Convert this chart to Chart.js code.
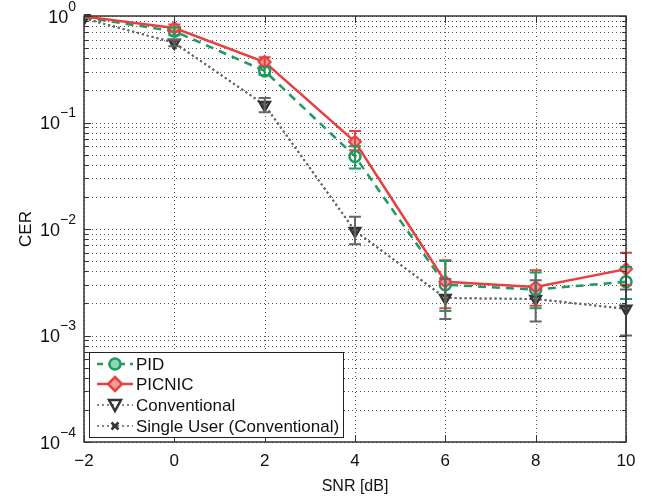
<!DOCTYPE html>
<html>
<head>
<meta charset="utf-8">
<script src="https://cdn.jsdelivr.net/npm/chart.js@4.4.1/dist/chart.umd.min.js"></script>
<style>
  html, body { margin: 0; padding: 0; background: #fff; }
  #wrap { width: 650px; height: 498px; }
</style>
</head>
<body>
<div id="wrap"><canvas id="cer"></canvas></div>
<script>
// SNR points [dB]
const snr = [-2, 0, 2, 4, 6, 8, 10];

// CER per scheme, with error bar limits (none drawn at -2 dB)
const pid = [0.97, 0.72, 0.305, 0.048, 0.0030, 0.0027, 0.0032];
const pidLo = [null, 0.66, 0.28, 0.037, 0.0017, 0.0018, 0.0022];
const pidHi = [null, 0.78, 0.33, 0.060, 0.0050, 0.0039, 0.0044];

const picnic = [0.99, 0.77, 0.37, 0.066, 0.0032, 0.00285, 0.0042];
const picnicLo = [null, 0.71, 0.34, 0.055, 0.0018, 0.0019, 0.0030];
const picnicHi = [null, 0.83, 0.41, 0.083, 0.0051, 0.0041, 0.0060];

const conventional = [0.95, 0.56, 0.146, 0.0096, 0.00225, 0.0022, 0.00178];
const convLo = [null, 0.52, 0.125, 0.0072, 0.00143, 0.00135, 0.0010];
const convHi = [null, 0.60, 0.17, 0.013, 0.0034, 0.0033, 0.0027];

const singleUser = [0.95, 0.56, 0.146, 0.0096, 0.00225, 0.0022, 0.00178];

const xTicks = [-2, 0, 2, 4, 6, 8, 10];
const decades = [-4, -3, -2, -1, 0];

const GREEN = '#1f9a63';
const RED = '#e8403f';
const DARK = '#333333';
const FONT = '"Liberation Sans", Arial, sans-serif';

const pts = arr => arr.map((v, i) => ({ x: snr[i], y: v }));
// no marker at the first point for the coded schemes
const radii = r => snr.map((s, i) => (i === 0 ? 0 : r));

// log ticks: every 1..9 x decade
const yTicks = [];
decades.forEach(d => {
    if (d === 0) { yTicks.push(1); return; }
    for (let m = 1; m <= 9; m++) yTicks.push(m * Math.pow(10, d));
});

// dotted MATLAB style grid
const dotGrid = {
    id: 'dotGrid',
    beforeDatasetsDraw(chart) {
        const { ctx, chartArea: a, scales: { x, y } } = chart;
        ctx.save();
        ctx.strokeStyle = '#555';
        ctx.lineWidth = 1;
        ctx.setLineDash([1, 3]);
        ctx.beginPath();
        yTicks.forEach(v => {
            const py = Math.round(y.getPixelForValue(v)) + 0.5;
            ctx.moveTo(a.left, py); ctx.lineTo(a.right, py);
        });
        xTicks.forEach(v => {
            const px = Math.round(x.getPixelForValue(v)) + 0.5;
            ctx.moveTo(px, a.top); ctx.lineTo(px, a.bottom);
        });
        ctx.stroke();
        ctx.restore();
    }
};

const errorBars = {
    id: 'errorBars',
    afterDatasetsDraw(chart) {
        const { ctx, scales: { x, y } } = chart;
        ctx.save();
        chart.data.datasets.forEach(ds => {
            if (!ds.errLo) return;
            ctx.strokeStyle = ds.borderColor;
            ctx.lineWidth = 2;
            ds.data.forEach((p, i) => {
                if (ds.errLo[i] == null) return;
                const px = x.getPixelForValue(p.x);
                const y1 = y.getPixelForValue(ds.errLo[i]);
                const y2 = y.getPixelForValue(ds.errHi[i]);
                ctx.beginPath();
                ctx.moveTo(px, y1); ctx.lineTo(px, y2);
                ctx.moveTo(px - 6, y1); ctx.lineTo(px + 6, y1);
                ctx.moveTo(px - 6, y2); ctx.lineTo(px + 6, y2);
                ctx.stroke();
            });
        });
        ctx.restore();
    }
};

const frame = {
    id: 'frame',
    afterDraw(chart) {
        const { ctx, chartArea: a, scales: { x, y } } = chart;
        ctx.save();
        ctx.strokeStyle = DARK;
        ctx.lineWidth = 1.5;
        ctx.strokeRect(a.left, a.top, a.right - a.left, a.bottom - a.top);

        // inward tick marks
        ctx.lineWidth = 1;
        ctx.beginPath();
        yTicks.forEach(v => {
            const py = Math.round(y.getPixelForValue(v)) + 0.5;
            const major = Math.abs(Math.log10(v) - Math.round(Math.log10(v))) < 1e-9;
            const len = major ? 7 : 4;
            ctx.moveTo(a.left, py); ctx.lineTo(a.left + len, py);
            ctx.moveTo(a.right, py); ctx.lineTo(a.right - len, py);
        });
        xTicks.forEach(v => {
            const px = Math.round(x.getPixelForValue(v)) + 0.5;
            ctx.moveTo(px, a.bottom); ctx.lineTo(px, a.bottom - 7);
            ctx.moveTo(px, a.top); ctx.lineTo(px, a.top + 7);
        });
        ctx.stroke();

        // y labels 10^n
        ctx.fillStyle = '#111';
        ctx.textBaseline = 'middle';
        decades.forEach(d => {
            const py = y.getPixelForValue(Math.pow(10, d));
            const exp = d < 0 ? '\u2212' + Math.abs(d) : String(d);
            ctx.font = '14px ' + FONT;
            const ew = ctx.measureText(exp).width;
            const right = a.left - 8;
            ctx.textAlign = 'left';
            ctx.fillText(exp, right - ew, py - 9);
            ctx.font = '18px ' + FONT;
            ctx.textAlign = 'right';
            ctx.fillText('10', right - ew, py + 2);
        });

        // legend
        const lx = 89, ly = 352, lw = 254, lh = 85;
        ctx.fillStyle = '#fff';
        ctx.fillRect(lx, ly, lw, lh);
        ctx.strokeStyle = '#222';
        ctx.lineWidth = 1;
        ctx.strokeRect(lx + 0.5, ly + 0.5, lw, lh);
        const rows = [
            { label: 'PID', color: GREEN, dash: [6, 5], width: 2.5, mk: 'circle', fill: '#8fd6b2' },
            { label: 'PICNIC', color: RED, dash: [], width: 2.5, mk: 'diamond', fill: '#f29a98' },
            { label: 'Conventional', color: '#888', dash: [2, 3], width: 2, mk: 'tri', fill: null, mc: DARK },
            { label: 'Single User (Conventional)', color: '#888', dash: [2, 3], width: 2, mk: 'cross', fill: null, mc: DARK }
        ];
        const rowY = [364, 384, 405, 426];
        rows.forEach((r, i) => {
            const cy = rowY[i];
            ctx.setLineDash(r.dash);
            ctx.strokeStyle = r.color;
            ctx.lineWidth = r.width;
            ctx.beginPath();
            ctx.moveTo(lx + 8, cy); ctx.lineTo(lx + 44, cy);
            ctx.stroke();
            ctx.setLineDash([]);
            const mx = lx + 26;
            ctx.beginPath();
            if (r.mk === 'circle') ctx.arc(mx, cy, 5.5, 0, Math.PI * 2);
            if (r.mk === 'diamond') { ctx.moveTo(mx, cy - 7); ctx.lineTo(mx + 7, cy); ctx.lineTo(mx, cy + 7); ctx.lineTo(mx - 7, cy); ctx.closePath(); }
            if (r.mk === 'tri') { ctx.moveTo(mx - 6, cy - 5); ctx.lineTo(mx + 6, cy - 5); ctx.lineTo(mx, cy + 6); ctx.closePath(); }
            if (r.mk === 'cross') { ctx.moveTo(mx - 3.5, cy - 3.5); ctx.lineTo(mx + 3.5, cy + 3.5); ctx.moveTo(mx + 3.5, cy - 3.5); ctx.lineTo(mx - 3.5, cy + 3.5); }
            if (r.fill) { ctx.fillStyle = r.fill; ctx.fill(); }
            ctx.strokeStyle = r.mc || r.color;
            ctx.lineWidth = 2.5;
            ctx.stroke();
            ctx.fillStyle = '#111';
            ctx.font = '17px ' + FONT;
            ctx.textAlign = 'left';
            ctx.textBaseline = 'middle';
            ctx.fillText(r.label, lx + 47, cy + 1);
        });
        ctx.restore();
    }
};

const edgeClip = { left: 0, top: false, right: false, bottom: false };

new Chart(document.getElementById('cer'), {
    type: 'line',
    data: {
        datasets: [
            {
                label: 'PICNIC', data: pts(picnic), errLo: picnicLo, errHi: picnicHi,
                borderColor: RED, borderWidth: 2.5, pointStyle: 'rectRot', pointRadius: radii(6),
                pointBackgroundColor: '#f29a98', pointBorderColor: RED, pointBorderWidth: 2,
                clip: edgeClip, order: 1
            },
            {
                label: 'PID', data: pts(pid), errLo: pidLo, errHi: pidHi,
                borderColor: GREEN, borderWidth: 2.5, borderDash: [8, 6], pointStyle: 'circle', pointRadius: radii(5.5),
                pointBackgroundColor: 'rgba(255,255,255,0)', pointBorderColor: GREEN, pointBorderWidth: 2.5,
                clip: edgeClip, order: 2
            },
            {
                label: 'Conventional', data: pts(conventional), errLo: convLo, errHi: convHi,
                borderColor: '#666', borderWidth: 2, borderDash: [2, 3], pointStyle: 'triangle', pointRotation: 180,
                pointRadius: 6, pointBackgroundColor: 'rgba(255,255,255,0)', pointBorderColor: DARK, pointBorderWidth: 2.5,
                clip: edgeClip, order: 3
            },
            {
                label: 'Single User (Conventional)', data: pts(singleUser),
                borderColor: '#666', borderWidth: 2, borderDash: [2, 3], pointStyle: 'crossRot',
                pointRadius: 3, pointBorderColor: DARK, pointBorderWidth: 2,
                clip: edgeClip, order: 4
            }
        ]
    },
    options: {
        responsive: true,
        maintainAspectRatio: false,
        animation: false,
        layout: { padding: { top: 16, right: 24, left: 12, bottom: 0 } },
        plugins: { legend: { display: false }, tooltip: { enabled: false } },
        scales: {
            x: {
                type: 'linear', min: -2, max: 10,
                afterBuildTicks: s => { s.ticks = xTicks.map(v => ({ value: v })); },
                afterFit: s => { s.height = 56; },
                grid: { display: false },
                border: { display: false },
                ticks: {
                    padding: 1, color: '#111',
                    font: { family: FONT, size: 17 },
                    callback: v => v < 0 ? '\u2212' + Math.abs(v) : String(v)
                },
                title: {
                    display: true, text: 'SNR [dB]', color: '#111', padding: { top: 10, bottom: 2 },
                    font: { family: FONT, size: 16 }
                }
            },
            y: {
                type: 'logarithmic', min: 1e-4, max: 1,
                afterBuildTicks: s => { s.ticks = yTicks.map(v => ({ value: v })); },
                afterFit: s => { s.width = 72; },
                grid: { display: false },
                border: { display: false },
                ticks: { callback: () => '' },
                title: {
                    display: true, text: 'CER', color: '#111', padding: { bottom: 0 },
                    font: { family: FONT, size: 17 }
                }
            }
        }
    },
    plugins: [dotGrid, errorBars, frame]
});
</script>
</body>
</html>
